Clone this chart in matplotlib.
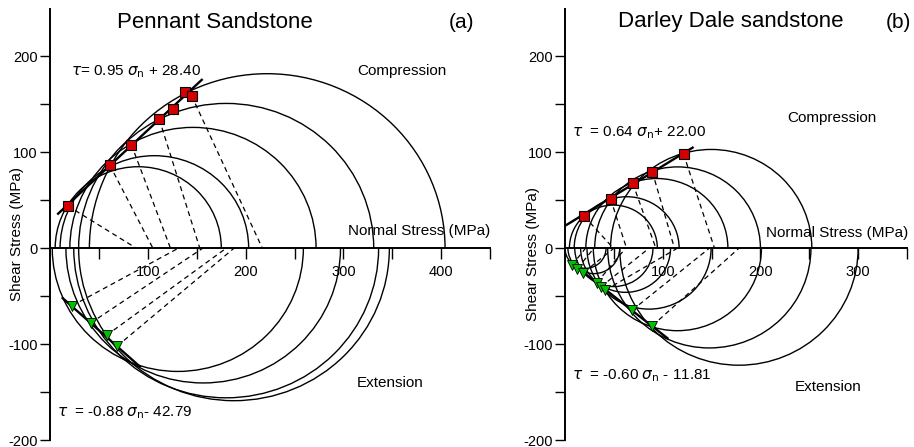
import numpy as np
import matplotlib.pyplot as plt
from matplotlib.patches import Arc
from matplotlib.ticker import FixedLocator

plt.rcParams['font.family'] = ['Liberation Sans', 'DejaVu Sans']
plt.rcParams['mathtext.fontset'] = 'dejavusans'
plt.rcParams['axes.unicode_minus'] = False

W, H = 914, 447

# ---- (a) Pennant Sandstone ----
pa_comp_s3 = [5, 10, 20, 29, 40]
pa_comp_s1 = [175, 203, 272, 331, 404]
pa_ext_s3 = [2, 16, 24, 29]
pa_ext_s1 = [259, 297, 336, 347]
pa_sq_sn = [17.8, 60.9, 83.0, 111.6, 125.9, 137.4, 144.6]
pa_sq_tau = [44.2, 86.6, 107.9, 134.3, 145.6, 162.7, 159.0]
pa_sq_end = [88, 105, 123, 153, np.nan, np.nan, 217]
pa_tri_sn = [22.4, 41.2, 57.6, 68.5]
pa_tri_tau = [-59.9, -78.1, -90.8, -102.0]
pa_tri_end = [131, 156, 180, 188]
pa_env_up_sn = [8, 155]
pa_env_up_tau = [36.0, 175.6]
pa_env_lo_sn = [12.6, 91.5]
pa_env_lo_tau = [-52.0, -123.3]

# ---- (b) Darley Dale sandstone ----
pb_comp_s3 = [4.5, 9.4, 21.3, 30.4, 46.6]
pb_comp_s1 = [94.5, 116.8, 166.7, 200, 252.6]
pb_ext_s3 = [0, 3, 10, 16, 22.5, 29, 43.7, 56]
pb_ext_s1 = [42, 56, 90, 108, 149.5, 201, 251.7, 300]
pb_sq_sn = [19.6, 46.7, 69.4, 89.4, 121.3]
pb_sq_tau = [33.4, 51.3, 67.6, 79.7, 98.4]
pb_sq_end = [49.5, 63, 93, 112, 153]
pb_tri_sn = [7.0, 12.7, 18.9, 32.7, 36.8, 41.2, 68.8, 89.4]
pb_tri_tau = [-17.8, -21.2, -25.4, -35.8, -40.2, -43.7, -64.6, -80.8]
pb_tri_end = [21, 29.5, 50, 62, 86, 115, 147.7, 178]
pb_env_up_sn = [1.7, 130.6]
pb_env_up_tau = [24.4, 104.9]
pb_env_lo_sn = [5.2, 104.8]
pb_env_lo_tau = [-14.3, -93.8]


def px_ax(fig, x0, x1):
    return fig.add_axes([x0 / W, (H - 440) / H, (x1 - x0) / W, (440 - 8.5) / H])


def draw(ax, xmax, cs3, cs1, es3, es1, sq_sn, sq_tau, sq_end, tr_sn, tr_tau, tr_end,
         up_sn, up_tau, lo_sn, lo_tau):
    for s3, s1 in zip(cs3, cs1):
        d = s1 - s3
        ax.add_patch(Arc(((s1 + s3) / 2, 0), d, d, theta1=0, theta2=180, lw=1.0, color='k'))
    for s3, s1 in zip(es3, es1):
        d = s1 - s3
        ax.add_patch(Arc(((s1 + s3) / 2, 0), d, d, theta1=180, theta2=360, lw=1.0, color='k'))
    for sn, t, e in zip(sq_sn, sq_tau, sq_end):
        if not np.isnan(e):
            ax.plot([sn, e], [t, 0], color='k', lw=0.9, dashes=(4, 3))
    for sn, t, e in zip(tr_sn, tr_tau, tr_end):
        ax.plot([sn, e], [t, 0], color='k', lw=0.9, dashes=(4, 3))
    ax.plot(up_sn, up_tau, color='k', lw=1.7)
    ax.plot(lo_sn, lo_tau, color='k', lw=1.7)
    ax.plot(sq_sn, sq_tau, 's', ms=6.8, mfc='#d40000', mec='k', mew=0.8, zorder=5)
    ax.plot(tr_sn, tr_tau, 'v', ms=7, mfc='#00c000', mec='k', mew=0.6, zorder=5)

    ax.set_xlim(0, xmax)
    ax.set_ylim(-200, 250)
    ax.spines['right'].set_visible(False)
    ax.spines['top'].set_visible(False)
    ax.spines['bottom'].set_position(('data', 0))
    ax.spines['left'].set_linewidth(1.4)
    ax.spines['bottom'].set_linewidth(1.4)
    ax.set_xticks([v for v in [100, 200, 300, 400] if v < xmax])
    ax.xaxis.set_minor_locator(FixedLocator(list(range(50, xmax + 1, 100))))
    ax.set_yticks([-200, -100, 0, 100, 200])
    ax.yaxis.set_minor_locator(FixedLocator([-150, -50, 50, 150]))
    ax.tick_params(which='both', direction='out', width=1.0, labelsize=10.5)
    ax.tick_params(axis='y', which='both', length=7, pad=2)
    ax.tick_params(axis='x', which='both', length=8, pad=4)
    ax.patch.set_alpha(0)


def ftxt(fig, x, y, s, **kw):
    fig.text(x / W, 1 - y / H, s, va='center', **kw)


fig = plt.figure(figsize=(W / 100, H / 100), dpi=100)

axa = px_ax(fig, 50.3, 490)
draw(axa, 450, pa_comp_s3, pa_comp_s1, pa_ext_s3, pa_ext_s1, pa_sq_sn, pa_sq_tau, pa_sq_end,
     pa_tri_sn, pa_tri_tau, pa_tri_end, pa_env_up_sn, pa_env_up_tau, pa_env_lo_sn, pa_env_lo_tau)
axb = px_ax(fig, 565, 907)
draw(axb, 350, pb_comp_s3, pb_comp_s1, pb_ext_s3, pb_ext_s1, pb_sq_sn, pb_sq_tau, pb_sq_end,
     pb_tri_sn, pb_tri_tau, pb_tri_end, pb_env_up_sn, pb_env_up_tau, pb_env_lo_sn, pb_env_lo_tau)

ftxt(fig, 215, 22, 'Pennant Sandstone', ha='center', fontsize=16)
ftxt(fig, 462, 22, '(a)', ha='center', fontsize=15)
ftxt(fig, 731, 22, 'Darley Dale sandstone', ha='center', fontsize=16)
ftxt(fig, 898, 22, '(b)', ha='center', fontsize=15)

ftxt(fig, 71, 72, r'$\tau$= 0.95 $\sigma_{\mathrm{n}}$ + 28.40', ha='left', fontsize=11)
ftxt(fig, 57, 413, r'$\tau$  = -0.88 $\sigma_{\mathrm{n}}$- 42.79', ha='left', fontsize=11)
ftxt(fig, 572, 133, r'$\tau$  = 0.64 $\sigma_{\mathrm{n}}$+ 22.00', ha='left', fontsize=11)
ftxt(fig, 572, 376, r'$\tau$  = -0.60 $\sigma_{\mathrm{n}}$ - 11.81', ha='left', fontsize=11)

ftxt(fig, 357, 71, 'Compression', ha='left', fontsize=11)
ftxt(fig, 787, 118, 'Compression', ha='left', fontsize=11)
ftxt(fig, 357, 383, 'Extension', ha='left', fontsize=11)
ftxt(fig, 795, 387, 'Extension', ha='left', fontsize=11)
ftxt(fig, 348, 231, 'Normal Stress (MPa)', ha='left', fontsize=11)
ftxt(fig, 766, 233, 'Normal Stress (MPa)', ha='left', fontsize=11)
ftxt(fig, 17, 234, 'Shear Stress (MPa)', ha='center', rotation=90, fontsize=11)
ftxt(fig, 533, 254, 'Shear Stress (MPa)', ha='center', rotation=90, fontsize=11)

fig.savefig('out.png', dpi=100)
